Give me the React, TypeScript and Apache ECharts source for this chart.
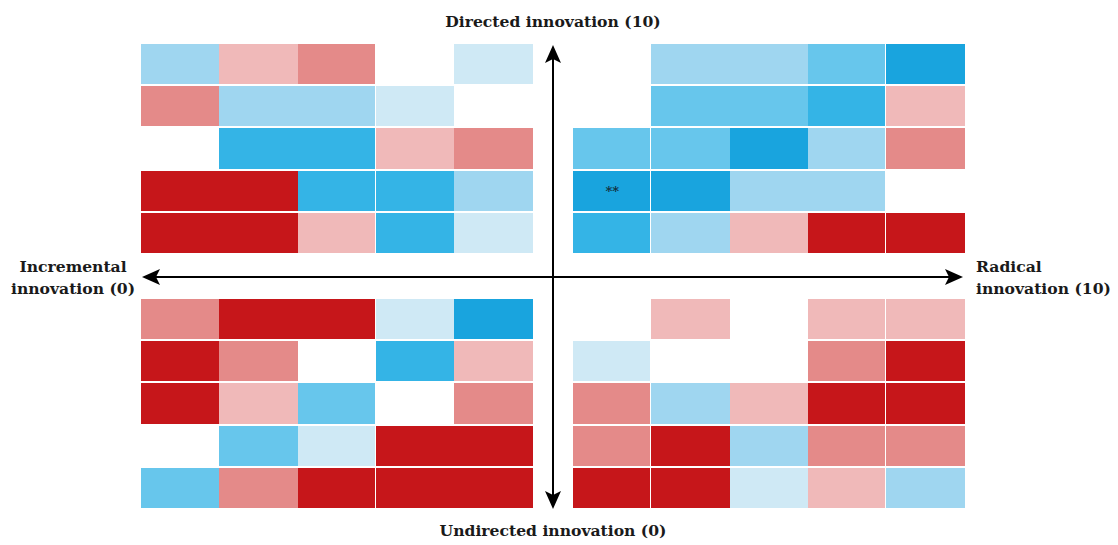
import React, { useEffect, useRef } from "react";
import * as echarts from "echarts";

// Levels: 0 = empty, 1..5 = blue shades (light → dark), -1..-3 = red shades (light → dark)
const topLeft: number[][] = [
  [2, -1, -2, 0, 1],
  [-2, 2, 2, 1, 0],
  [0, 4, 4, -1, -2],
  [-3, -3, 4, 4, 2],
  [-3, -3, -1, 4, 1],
];
const topRight: number[][] = [
  [0, 2, 2, 3, 5],
  [0, 3, 3, 4, -1],
  [3, 3, 5, 2, -2],
  [5, 5, 2, 2, 0],
  [4, 2, -1, -3, -3],
];
const bottomLeft: number[][] = [
  [-2, -3, -3, 1, 5],
  [-3, -2, 0, 4, -1],
  [-3, -1, 3, 0, -2],
  [0, 3, 1, -3, -3],
  [3, -2, -3, -3, -3],
];
const bottomRight: number[][] = [
  [0, -1, 0, -1, -1],
  [1, 0, 0, -2, -3],
  [-2, 2, -1, -3, -3],
  [-2, -3, 2, -2, -2],
  [-3, -3, 1, -1, 2],
];
// annotations: [quadrant, row, col, text]
const annotations: [string, number, number, string][] = [["topRight", 3, 0, "**"]];

const axisTitles = {
  top: "Directed innovation (10)",
  bottom: "Undirected innovation (0)",
  left: "Incremental\ninnovation (0)",
  right: "Radical\ninnovation (10)",
};

const levelColors: Record<string, string> = {
  "-3": "#c6161a",
  "-2": "#e48a89",
  "-1": "#f0b9b9",
  "1": "#cfe9f5",
  "2": "#9fd6f0",
  "3": "#67c6ec",
  "4": "#34b4e6",
  "5": "#19a4de",
};

const X_OFFSET_RIGHT = 5.517;
const Y_OFFSET_BOTTOM = 6.043;
const X_MAX = 10.52;
const Y_MAX = 11.043;

export default function App() {
  const ref = useRef<HTMLDivElement>(null);
  useEffect(() => {
    if (!ref.current) return;
    const chart = echarts.init(ref.current, null, { renderer: "svg" });

    const quads: Record<string, { grid: number[][]; side: number; dy: number }> = {
      topLeft: { grid: topLeft, side: 0, dy: 0 },
      topRight: { grid: topRight, side: 1, dy: 0 },
      bottomLeft: { grid: bottomLeft, side: 0, dy: Y_OFFSET_BOTTOM },
      bottomRight: { grid: bottomRight, side: 1, dy: Y_OFFSET_BOTTOM },
    };
    const data: number[][] = [];
    Object.values(quads).forEach((q) => {
      q.grid.forEach((row, r) => {
        row.forEach((v, c) => {
          if (v === 0) return;
          const x = (q.side ? X_OFFSET_RIGHT : 0) + c;
          data.push([x, q.dy + r, v, q.side, c]);
        });
      });
    });
    const annData = annotations.map(([qn, r, c, t]) => {
      const q = quads[qn];
      return { value: [(q.side ? X_OFFSET_RIGHT : 0) + c + 0.5, q.dy + r + 0.5], text: t };
    });

    const font = "'DejaVu Serif', serif";
    const titleFont = `bold 15.6px ${font}`;
    const arrowColor = "#000";
    const cx = 553;
    const cy = 277;

    chart.setOption({
      animation: false,
      grid: { left: 141, top: 44, width: 824, height: 466 },
      xAxis: { type: "value", min: 0, max: X_MAX, show: false },
      yAxis: { type: "value", min: 0, max: Y_MAX, inverse: true, show: false },
      series: [
        {
          type: "custom",
          data,
          renderItem: (params: any, api: any) => {
            const x = api.value(0);
            const y = api.value(1);
            const v = api.value(2);
            const side = api.value(3);
            const col = api.value(4);
            const p0 = api.coord([x, y]);
            const p1 = api.coord([x + 1, y + 1]);
            const gapRight = side === 0 ? (col === 2 ? 1 : 0) : col === 0 || col === 3 ? 1 : 0;
            const x0 = Math.round(p0[0]);
            const x1 = Math.round(p1[0]);
            const y0 = Math.round(p0[1]);
            const y1 = Math.round(p1[1]);
            return {
              type: "rect",
              shape: {
                x: x0,
                y: y0,
                width: x1 - x0 - gapRight,
                height: y1 - y0 - 2,
              },
              style: { fill: levelColors[String(v)] },
            };
          },
          z: 1,
        },
        {
          type: "scatter",
          data: annData,
          symbolSize: 0,
          z: 5,
          label: {
            show: true,
            position: "inside",
            formatter: (p: any) => p.data.text,
            color: "#111",
            fontSize: 13,
            fontWeight: "bold",
            fontFamily: font,
          },
        },
      ],
      graphic: [
        { type: "line", shape: { x1: cx, y1: 52, x2: cx, y2: 502 }, style: { stroke: arrowColor, lineWidth: 2 }, z: 10 },
        { type: "polygon", shape: { points: [[cx, 45], [cx + 8, 63], [cx, 59], [cx - 8, 63]] }, style: { fill: arrowColor }, z: 10 },
        { type: "polygon", shape: { points: [[cx, 509], [cx + 8, 491], [cx, 495], [cx - 8, 491]] }, style: { fill: arrowColor }, z: 10 },
        { type: "line", shape: { x1: 150, y1: cy, x2: 955, y2: cy }, style: { stroke: arrowColor, lineWidth: 2 }, z: 10 },
        { type: "polygon", shape: { points: [[142, cy], [160, cy - 8], [156, cy], [160, cy + 8]] }, style: { fill: arrowColor }, z: 10 },
        { type: "polygon", shape: { points: [[963, cy], [945, cy - 8], [949, cy], [945, cy + 8]] }, style: { fill: arrowColor }, z: 10 },
        {
          type: "text", x: cx, y: 21,
          style: { text: axisTitles.top, font: titleFont, fill: "#1a1a1a", textAlign: "center", textVerticalAlign: "middle" },
        },
        {
          type: "text", x: cx, y: 530,
          style: { text: axisTitles.bottom, font: titleFont, fill: "#1a1a1a", textAlign: "center", textVerticalAlign: "middle" },
        },
        {
          type: "text", x: 73, y: 277,
          style: { text: axisTitles.left, font: titleFont, lineHeight: 22, fill: "#1a1a1a", textAlign: "center", textVerticalAlign: "middle" },
        },
        {
          type: "text", x: 976, y: 277,
          style: { text: axisTitles.right, font: titleFont, lineHeight: 22, fill: "#1a1a1a", textAlign: "left", textVerticalAlign: "middle" },
        },
      ],
    });
    return () => chart.dispose();
  }, []);
  return <div ref={ref} style={{ position: "absolute", left: 0, top: 0, width: 1118, height: 545 }} />;
}
